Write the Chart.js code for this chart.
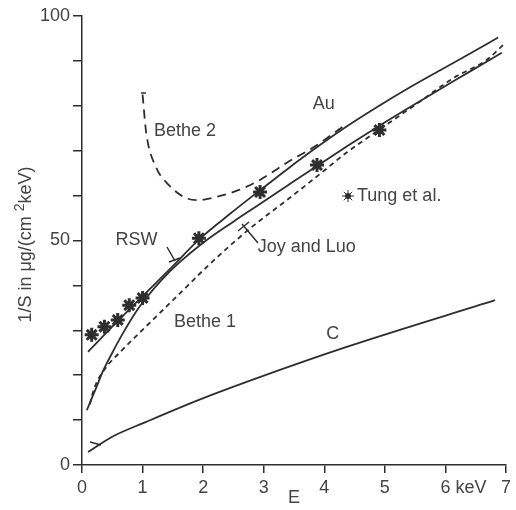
<!DOCTYPE html>
<html>
<head>
<meta charset="utf-8">
<script src="https://cdn.jsdelivr.net/npm/chart.js@4"></script>
<style>
  html, body { margin: 0; padding: 0; background: #fff; }
  #wrap { width: 516px; height: 510px; }
</style>
</head>
<body>
<div id="wrap"><canvas id="chart" width="516" height="510"></canvas></div>
<script>
// values (E in keV, 1/S)
const rswE = [0.1, 0.5, 1.0, 1.5, 1.93, 2.45, 2.94, 3.4, 3.83, 4.35, 4.86, 5.4, 5.95, 6.4, 6.87];
const rswS = [25.2, 30.8, 37.6, 44.3, 50.2, 56, 61.2, 66, 70.3, 75.2, 79.6, 84, 88.2, 91.6, 95.2];

const joyE = [0.08, 0.24, 0.35, 0.5, 0.67, 0.9, 1.06, 1.32, 1.6, 2.0, 2.5, 2.9, 3.4, 3.88, 4.4, 4.95, 5.5, 5.95, 6.45, 6.93];
const joyS = [12.2, 17.4, 21, 25, 29.2, 34.3, 37.2, 41.3, 45, 49.5, 54.2, 57.8, 62.3, 66.6, 71.2, 75.9, 80.4, 84, 88, 91.8];

const bethe1E = [0.13, 0.2, 0.4, 0.62, 0.84, 1.22, 1.6, 2.09, 2.74, 3.4, 3.9, 4.37, 4.9, 5.5, 6.17, 6.66, 6.95];
const bethe1S = [13.5, 17, 21.8, 25, 28, 33, 38, 44.5, 52.3, 59.2, 64.5, 69.6, 74.6, 80.2, 86.5, 90, 93.5];

const bethe2E = [1.0, 1.06, 1.22, 1.43, 1.71, 1.92, 2.25, 2.58, 2.9, 3.44, 3.83, 4.3];
const bethe2S = [82.5, 74, 66.4, 62.4, 59.5, 59, 59.8, 61.2, 63.2, 67.8, 70.8, 75.3];

const cE = [0.1, 0.5, 1.06, 1.93, 2.9, 4.37, 6.82];
const cS = [2.9, 6.3, 9.6, 14.5, 19.4, 26.3, 36.7];

const tungE = [0.16, 0.37, 0.59, 0.78, 1.0, 1.93, 2.94, 3.88, 4.91];
const tungS = [29, 30.8, 32.3, 35.6, 37.2, 50.5, 60.8, 66.8, 74.6];

const xTicks = [0, 1, 2, 3, 4, 5, 6, 7];
const yTickLabels = [0, 50, 100];

const ink = '#2e2e2e';
const textInk = '#444';
const fontFamily = '"Liberation Sans", Arial, sans-serif';

function pts(xs, ys) {
  return xs.map((x, i) => ({ x: x, y: ys[i] }));
}

function curve(label, xs, ys, dash) {
  return {
    label: label,
    data: pts(xs, ys),
    showLine: true,
    borderColor: ink,
    borderWidth: 1.8,
    borderDash: dash || [],
    pointRadius: 0,
    cubicInterpolationMode: 'monotone',
    fill: false
  };
}

// text labels on the plot, positions in data units
const notes = [
  { text: 'Bethe 2', x: 1.19, y: 74.4, align: 'left' },
  { text: 'Au', x: 3.99, y: 80.4, align: 'center' },
  { text: 'RSW', x: 0.9, y: 50, align: 'center' },
  { text: 'Joy and Luo', x: 2.9, y: 48.5, align: 'left' },
  { text: 'Bethe 1', x: 1.52, y: 31.9, align: 'left' },
  { text: 'C', x: 4.14, y: 29.2, align: 'center' },
  { text: 'Tung et al.', x: 4.54, y: 59.9, align: 'left' }
];

const notesPlugin = {
  id: 'notes',
  afterDatasetsDraw(chart) {
    const ctx = chart.ctx;
    const xs = chart.scales.x, ys = chart.scales.y;
    ctx.save();
    ctx.font = '18px ' + fontFamily;
    ctx.fillStyle = textInk;
    ctx.textBaseline = 'middle';
    notes.forEach(n => {
      ctx.textAlign = n.align;
      ctx.fillText(n.text, xs.getPixelForValue(n.x), ys.getPixelForValue(n.y));
    });

    // star key before "Tung et al."
    const kx = xs.getPixelForValue(4.54) - 9, ky = ys.getPixelForValue(59.9);
    ctx.strokeStyle = ink;
    ctx.fillStyle = ink;
    Chart.helpers.drawPoint(ctx, { pointStyle: 'star', radius: 6, borderWidth: 2.5 }, kx, ky);
    ctx.beginPath();
    ctx.arc(kx, ky, 3, 0, Math.PI * 2);
    ctx.fill();

    // pointer strokes
    ctx.lineWidth = 1.5;
    ctx.strokeStyle = ink;
    ctx.beginPath();
    ctx.moveTo(167, 247); ctx.lineTo(175, 261);
    ctx.moveTo(169, 262); ctx.lineTo(180, 258);
    ctx.moveTo(242, 224); ctx.lineTo(258, 243);
    ctx.moveTo(238, 231); ctx.lineTo(249, 222);
    // little hook at the start of C
    ctx.moveTo(90, 442); ctx.lineTo(101, 445);
    // small bar at the top of Bethe 2
    ctx.moveTo(141, 93); ctx.lineTo(146, 93);
    ctx.stroke();

    // "keV" after the 6 tick
    ctx.fillStyle = textInk;
    ctx.textAlign = 'left';
    ctx.textBaseline = 'middle';
    ctx.fillText('keV', xs.getPixelForValue(6) + 10, 488);

    // x title
    ctx.textAlign = 'center';
    ctx.fillText('E', (xs.left + xs.right) / 2, 498);

    // y title with superscript 2
    ctx.translate(26, (ys.top + ys.bottom) / 2 + 4);
    ctx.rotate(-Math.PI / 2);
    const a = '1/S in \u03bcg/(cm ', b = '2', c = 'keV)';
    ctx.font = '18px ' + fontFamily;
    const wa = ctx.measureText(a).width, wc = ctx.measureText(c).width;
    ctx.font = '14px ' + fontFamily;
    const wb = ctx.measureText(b).width;
    let x0 = -(wa + wb + wc) / 2;
    ctx.textAlign = 'left';
    ctx.font = '18px ' + fontFamily;
    ctx.fillText(a, x0, 0);
    ctx.font = '14px ' + fontFamily;
    ctx.fillText(b, x0 + wa, -6);
    ctx.font = '18px ' + fontFamily;
    ctx.fillText(c, x0 + wa + wb, 0);
    ctx.restore();
  }
};

new Chart(document.getElementById('chart'), {
  type: 'scatter',
  data: {
    datasets: [
      curve('RSW', rswE, rswS),
      curve('Joy and Luo', joyE, joyS),
      curve('Bethe 1', bethe1E, bethe1S, [5, 4]),
      curve('Bethe 2', bethe2E, bethe2S, [9, 6]),
      curve('C', cE, cS),
      {
        label: 'Tung et al.',
        data: pts(tungE, tungS),
        showLine: false,
        pointStyle: 'star',
        pointRadius: 7,
        borderWidth: 3,
        borderColor: ink,
        backgroundColor: ink
      }
    ]
  },
  options: {
    responsive: false,
    animation: false,
    layout: { padding: { top: 16, right: 5, left: 0, bottom: 0 } },
    plugins: {
      legend: { display: false },
      tooltip: { enabled: false }
    },
    scales: {
      x: {
        type: 'linear',
        min: 0,
        max: 7,
        afterBuildTicks(s) { s.ticks = xTicks.map(v => ({ value: v })); },
        ticks: {
          color: textInk,
          font: { size: 18, family: fontFamily },
          padding: 4,
          maxRotation: 0,
          callback: v => String(v)
        },
        grid: { drawOnChartArea: false, tickLength: 8, color: ink, lineWidth: 1.5 },
        border: { color: ink, width: 1.5 },
        afterFit(s) { s.height = 45; }
      },
      y: {
        type: 'linear',
        min: 0,
        max: 100,
        ticks: {
          stepSize: 10,
          color: textInk,
          font: { size: 18, family: fontFamily },
          padding: 3,
          callback: v => yTickLabels.includes(v) ? String(v) : ''
        },
        grid: { drawOnChartArea: false, tickLength: 9, color: ink, lineWidth: 1.5 },
        border: { color: ink, width: 1.5 },
        afterFit(s) { s.width = 82; }
      }
    }
  },
  plugins: [notesPlugin]
});
</script>
</body>
</html>
